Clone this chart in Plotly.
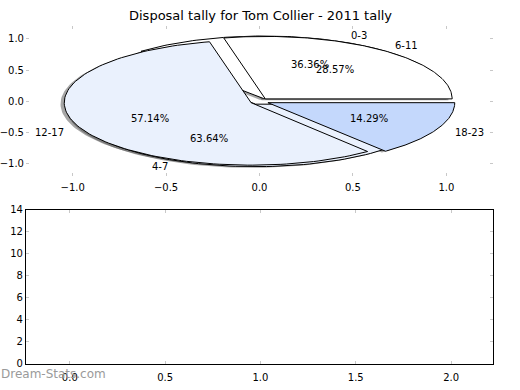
import numpy as np
import plotly.graph_objects as go

# ---- data ----
title_text = "Disposal tally for Tom Collier - 2011 tally"
labels_a = ["0-3", "4-7"]
values_a = [4, 7]
colors_a = ["#ffffff", "#eaf1fd"]

labels_b = ["6-11", "12-17", "18-23"]
values_b = [2, 4, 1]
colors_b = ["#ffffff", "#eaf1fd", "#c4d8fc"]

pie_ticks = [-1.0, -0.5, 0.0, 0.5, 1.0]
bottom_xticks = [0.0, 0.5, 1.0, 1.5, 2.0]
bottom_yticks = [0, 2, 4, 6, 8, 10, 12, 14]
watermark = "Dream-Stats.com"

EXPLODE = 0.05
SHADOW_OFF = -0.02
FONT = "DejaVu Sans"


def wedges(values):
    vals = np.asarray(values, dtype=float)
    frac = vals / vals.sum()
    out = []
    start = 0.0
    for f in frac:
        t1, t2 = start, start + 360.0 * f
        mid = np.deg2rad((t1 + t2) / 2)
        cx, cy = EXPLODE * np.cos(mid), EXPLODE * np.sin(mid)
        th = np.deg2rad(np.linspace(t1, t2, 120))
        xs = np.concatenate([[cx], cx + np.cos(th), [cx]])
        ys = np.concatenate([[cy], cy + np.sin(th), [cy]])
        out.append(dict(x=xs, y=ys, cx=cx, cy=cy, mid=mid, frac=f))
        start = t2
    return out


wa = wedges(values_a)
wb = wedges(values_b)

fig = go.Figure()

# shadows (all under wedges)
for w in wa + wb:
    fig.add_trace(go.Scatter(x=w["x"] + SHADOW_OFF, y=w["y"] + SHADOW_OFF, mode="lines",
                             fill="toself", fillcolor="rgba(77,77,77,0.5)",
                             line=dict(width=0), hoverinfo="skip", showlegend=False,
                             xaxis="x", yaxis="y"))
# wedges
for ws, cols in ((wa, colors_a), (wb, colors_b)):
    for w, c in zip(ws, cols):
        fig.add_trace(go.Scatter(x=w["x"], y=w["y"], mode="lines", fill="toself",
                                 fillcolor=c, line=dict(color="black", width=1),
                                 hoverinfo="skip", showlegend=False,
                                 xaxis="x", yaxis="y"))

annotations = []
for ws, labs in ((wa, labels_a), (wb, labels_b)):
    for w, lab in zip(ws, labs):
        lx = w["cx"] + 1.1 * np.cos(w["mid"])
        ly = w["cy"] + 1.1 * np.sin(w["mid"])
        annotations.append(dict(x=lx, y=ly, xref="x", yref="y", text=lab, showarrow=False,
                                xanchor="left" if lx > 0 else "right", yanchor="middle",
                                font=dict(family=FONT, size=10, color="black")))
        px = w["cx"] + 0.6 * np.cos(w["mid"])
        py = w["cy"] + 0.6 * np.sin(w["mid"])
        annotations.append(dict(x=px, y=py, xref="x", yref="y",
                                text="%.2f%%" % (100 * w["frac"]), showarrow=False,
                                xanchor="center", yanchor="middle",
                                font=dict(family=FONT, size=10, color="black")))

annotations.append(dict(x=0.5, y=1 - 10 / 390, xref="paper", yref="paper", text=title_text,
                        showarrow=False, xanchor="center", yanchor="middle",
                        font=dict(family=FONT, size=13, color="black")))
annotations.append(dict(x=-0.003, y=1 - 380 / 390, xref="paper", yref="paper", text=watermark,
                        showarrow=False, xanchor="left", yanchor="middle",
                        font=dict(family=FONT, size=12, color="#9a9a9a")))

# empty bottom axes
fig.add_trace(go.Scatter(x=[], y=[], xaxis="x2", yaxis="y2", showlegend=False))

tickfont = dict(family=FONT, size=10, color="black")
xdom = [25 / 520, 493 / 520]
pie_ticktext = ["%.1f" % v if v >= 0 else "\u2212%.1f" % -v for v in pie_ticks]

fig.update_layout(
    width=520, height=390, margin=dict(l=0, r=0, t=0, b=0),
    paper_bgcolor="white", plot_bgcolor="white", showlegend=False,
    annotations=annotations,
    xaxis=dict(domain=xdom, anchor="y", range=[-1.25, 1.25], tickvals=pie_ticks,
               ticktext=pie_ticktext, ticklabelstandoff=4,
               showgrid=False, zeroline=False, showline=False, ticks="inside", ticklen=3,
               tickcolor="#c8c8c8", mirror="ticks", tickfont=tickfont),
    yaxis=dict(domain=[1 - 175.7 / 390, 1 - 21 / 390], anchor="x", range=[-1.2, 1.2],
               tickvals=pie_ticks, ticktext=pie_ticktext, ticklabelstandoff=1,
               showgrid=False, zeroline=False, showline=False, ticks="inside", ticklen=3,
               tickcolor="#c8c8c8", mirror="ticks", tickfont=tickfont),
    xaxis2=dict(domain=xdom, anchor="y2", range=[-0.23, 2.22], tickvals=bottom_xticks,
                ticktext=["%.1f" % v for v in bottom_xticks], ticklabelstandoff=4,
                showgrid=False, zeroline=False, showline=True, linecolor="black", linewidth=1,
                ticks="inside", ticklen=3, tickcolor="#c8c8c8", mirror="ticks",
                tickfont=tickfont),
    yaxis2=dict(domain=[1 - 369 / 390, 1 - 210 / 390], anchor="x2", range=[0, 14],
                tickvals=bottom_yticks, showgrid=False, zeroline=False, showline=True,
                linecolor="black", linewidth=1, ticks="inside", ticklen=3,
                tickcolor="#c8c8c8", mirror="ticks", tickfont=tickfont),
)

fig.write_html("out.html", config={"displayModeBar": False},
               post_script="document.body.style.margin='0';document.body.style.overflow='hidden';")
